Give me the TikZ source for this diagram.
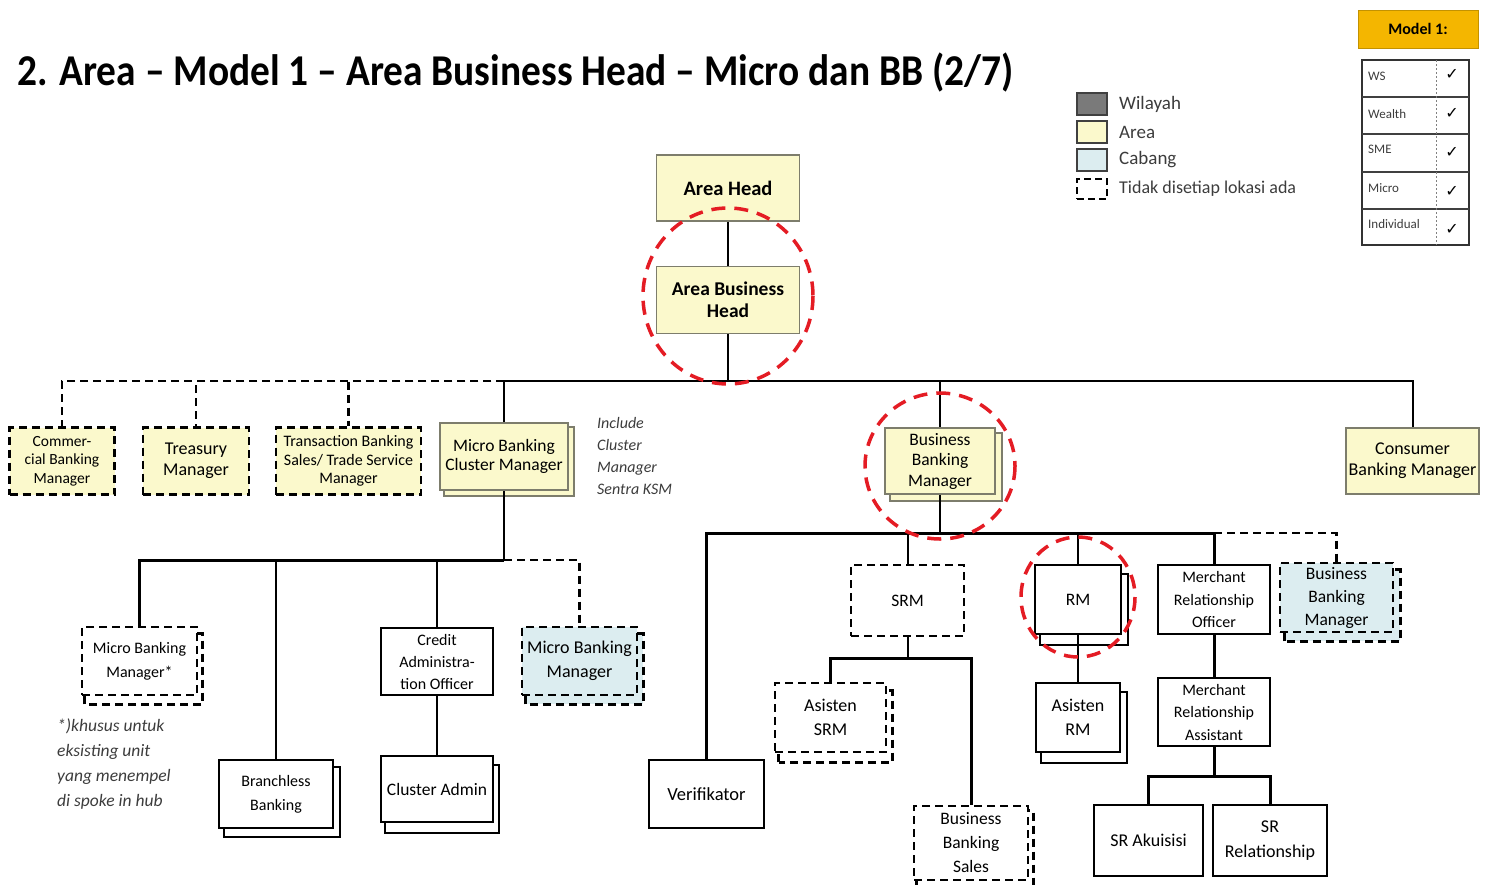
\documentclass[tikz,border=0pt]{standalone}
\usepackage{fontspec}
\setmainfont{Carlito}
\newfontfamily\djv{DejaVu Sans}
\usetikzlibrary{backgrounds}
\definecolor{ylw}{RGB}{251,249,204}
\definecolor{ybd}{RGB}{125,125,108}
\definecolor{cyn}{RGB}{220,237,240}
\definecolor{redc}{RGB}{228,28,36}
\definecolor{orng}{RGB}{244,182,0}
\definecolor{wil}{RGB}{122,122,122}
\definecolor{txtg}{RGB}{60,60,60}
\newcommand{\stackshadow}[4]{%
  \begin{scope}[on background layer]
    \path[#4] ([shift={(#2,#3)}]#1.south west) rectangle ([shift={(#2,#3)}]#1.north east);
  \end{scope}}
\newcommand{\fsz}[2]{\fontsize{#1}{#2}\selectfont}
\begin{document}
\begin{tikzpicture}[x=1pt,y=-1pt,
  every node/.style={align=center, inner sep=1pt},
  abox/.style={draw=ybd, fill=ylw, line width=1.8pt},
  wbox/.style={draw=black, fill=white, line width=2.3pt},
  dbox/.style={draw=black, fill=white, line width=2.6pt, dash pattern=on 8pt off 5pt},
  conn/.style={draw=black, line width=2pt},
  tconn/.style={draw=black, line width=3pt},
  dconn/.style={draw=black, line width=2.4pt, dash pattern=on 8pt off 5pt},
  redring/.style={draw=redc, line width=3.5pt, dash pattern=on 14pt off 9pt},
  lgd/.style={anchor=west, font=\fsz{19}{20}, text=txtg},
  tlab/.style={anchor=west, font=\fsz{13}{14}, text=txtg},
  tchk/.style={font=\djv\fsz{16}{17}},
]
\useasboundingbox (0,0) rectangle (1488,884);

% title
\node[anchor=base west, inner sep=0] (title) at (17,85) {\scalebox{0.895}[1]{\fsz{44}{48}\bfseries 2. Area – Model 1 – Area Business Head – Micro dan BB (2/7)}};

% legend
\node[draw=black!75, fill=wil, line width=1.2pt, minimum width=30, minimum height=22, inner sep=0] (lgW) at (1092,104) {};
\node[draw=black!75, fill=ylw, line width=1.2pt, minimum width=30, minimum height=22, inner sep=0] (lgA) at (1092,132) {};
\node[draw=black!75, fill=cyn, line width=1.2pt, minimum width=30, minimum height=22, inner sep=0] (lgC) at (1092,160) {};
\node[draw=black, fill=white, line width=2.2pt, dash pattern=on 7pt off 4pt, minimum width=30, minimum height=20, inner sep=0] (lgD) at (1092,189) {};
\node[lgd] (tW) at (1118,104) {Wilayah};
\node[lgd] (tA) at (1118,132) {Area};
\node[lgd] (tC) at (1118,160) {Cabang};
\node[lgd, font=\fsz{18}{20}] (tD) at (1118,189) {Tidak disetiap lokasi ada};

% model table
\node[fill=orng, draw=orng!80!black, line width=1pt, minimum width=120, minimum height=38, font=\fsz{16}{18}\bfseries] (mod) at (1418,29) {Model 1:};
\draw[line width=1.3pt, draw=black!80] (1362,60) rectangle (1469,245);
\foreach \yy in {97,134,172,209} \draw[line width=1.1pt, draw=black!75] (1362,\yy) -- (1469,\yy);
\draw[line width=0.8pt, draw=black!50, dash pattern=on 2pt off 2pt] (1436,60) -- (1436,245);
\node[tlab] (rWS) at (1367,76) {WS};
\node[tlab] (rWe) at (1367,114) {Wealth};
\node[tlab] (rSM) at (1367,149) {SME};
\node[tlab] (rMi) at (1367,188) {Micro};
\node[tlab] (rIn) at (1367,224) {Individual};
\node[tchk] (c1) at (1452,74) {✓};
\node[tchk] (c2) at (1452,113) {✓};
\node[tchk] (c3) at (1452,152) {✓};
\node[tchk] (c4) at (1452,191) {✓};
\node[tchk] (c5) at (1452,229) {✓};

% top
\node[abox, minimum width=143, minimum height=66, font=\fsz{20.5}{22}\bfseries] (ah) at (728,188) {Area Head};
\node[abox, minimum width=143, minimum height=67, font=\fsz{19.5}{22}\bfseries] (abh) at (728,300) {Area Business\\Head};

% level 2
\node[dbox, fill=ylw, minimum width=105, minimum height=67, font=\fsz{15.5}{18.5}] (comm) at (62,461) {Commer-\\cial Banking\\Manager};
\node[dbox, fill=ylw, minimum width=106, minimum height=67, font=\fsz{18}{21}] (treas) at (196,461) {Treasury\\Manager};
\node[dbox, fill=ylw, minimum width=145, minimum height=67, font=\fsz{16}{18.5}] (trans) at (348.5,461) {Transaction Banking\\Sales/ Trade Service\\Manager};
\node[abox, minimum width=128, minimum height=67, font=\fsz{17.5}{19.5}] (mbcm) at (504,456.5) {Micro Banking\\Cluster Manager};
\stackshadow{mbcm}{5}{5}{draw=ybd, fill=ylw, line width=1.8pt}
\node[anchor=north west, align=left, font=\fsz{16}{22}\itshape, text=txtg] (note1) at (596,416) {Include\\Cluster\\Manager\\Sentra KSM};
\node[abox, minimum width=110, minimum height=66, font=\fsz{17.5}{20.5}] (bbm) at (940,461) {Business\\Banking\\Manager};
\stackshadow{bbm}{6}{6}{draw=ybd, fill=ylw, line width=1.8pt}
\node[abox, minimum width=133, minimum height=66, font=\fsz{18}{21}] (cons) at (1412.5,461) {Consumer\\Banking Manager};

% micro subtree
\node[dbox, minimum width=115, minimum height=68, font=\fsz{16}{24}] (mbm1) at (139.5,661) {Micro Banking\\Manager*};
\stackshadow{mbm1}{4}{8}{draw=black, fill=white, line width=2.6pt, dash pattern=on 8pt off 5pt}
\node[anchor=north west, align=left, font=\fsz{17.5}{25}\itshape, text=txtg] (foot) at (56,718) {*)khusus untuk\\eksisting unit\\yang menempel\\di spoke in hub};
\node[wbox, minimum width=114, minimum height=68, font=\fsz{16}{24}] (bless) at (276,794) {Branchless\\Banking};
\stackshadow{bless}{6}{8}{draw=black, fill=white, line width=2.3pt}
\node[wbox, line width=2pt, minimum width=112, minimum height=67, font=\fsz{16}{22}] (cao) at (437,661.5) {Credit\\Administra-\\tion Officer};
\node[wbox, minimum width=112, minimum height=66, font=\fsz{17.5}{20}] (cadm) at (437,789) {Cluster Admin};
\stackshadow{cadm}{5}{10}{draw=black, fill=white, line width=2.3pt}
\node[dbox, fill=cyn, minimum width=115, minimum height=68, font=\fsz{18}{24}] (mbm2) at (579.5,661) {Micro Banking\\Manager};
\stackshadow{mbm2}{5}{8}{draw=black, fill=cyn, line width=2.6pt, dash pattern=on 8pt off 5pt}

% business banking subtree
\node[wbox, line width=2.8pt, minimum width=115, minimum height=68, font=\fsz{18.5}{20}] (verif) at (706.5,794) {Verifikator};
\node[dbox, minimum width=113, minimum height=71, font=\fsz{17.5}{20}] (srm) at (907.5,600.5) {SRM};
\node[dbox, minimum width=111, minimum height=69, font=\fsz{18}{24}] (asrm) at (830.5,717.5) {Asisten\\SRM};
\stackshadow{asrm}{5}{9}{draw=black, fill=white, line width=2.6pt, dash pattern=on 8pt off 5pt}
\node[dbox, minimum width=114, minimum height=74, font=\fsz{17.5}{24}] (bbs) at (971,843) {Business\\Banking\\Sales};
\stackshadow{bbs}{4}{6}{draw=black, fill=white, line width=2.6pt, dash pattern=on 8pt off 5pt}
\node[wbox, minimum width=86, minimum height=69, font=\fsz{17.5}{20}] (rm) at (1078,599.5) {RM};
\stackshadow{rm}{6}{10}{draw=black, fill=white, line width=2.3pt}
\node[wbox, minimum width=84, minimum height=69, font=\fsz{18}{24}] (arm) at (1078,717.5) {Asisten\\RM};
\stackshadow{arm}{6}{10}{draw=black, fill=white, line width=2.3pt}
\node[wbox, line width=2.8pt, minimum width=112, minimum height=69, font=\fsz{16}{22.5}] (mro) at (1214,599.5) {Merchant\\Relationship\\Officer};
\node[wbox, line width=2.8pt, minimum width=112, minimum height=68, font=\fsz{16}{22.5}] (mra) at (1214,712) {Merchant\\Relationship\\Assistant};
\node[dbox, fill=cyn, minimum width=113, minimum height=69, font=\fsz{17.5}{23}] (bbm2) at (1336.5,597.5) {Business\\Banking\\Manager};
\stackshadow{bbm2}{6}{8}{draw=black, fill=cyn, line width=2.6pt, dash pattern=on 8pt off 5pt}
\node[wbox, line width=2.8pt, minimum width=109, minimum height=71, font=\fsz{18}{20}] (sra) at (1148.5,840.5) {SR Akuisisi};
\node[wbox, line width=2.8pt, minimum width=114, minimum height=71, font=\fsz{18}{25}] (srr) at (1270,840.5) {SR\\Relationship};

% junctions
\coordinate (j0) at (504,381);
\coordinate (j1) at (728,381);
\coordinate (j2) at (504,560);
\coordinate (j3) at (940,533);
\coordinate (j4) at (1214,533);
\coordinate (j5) at (907.5,658);
\coordinate (j6) at (1214,776);

% connectors top
\draw[conn] (ah) -- (abh);
\draw[conn] (abh) -- (j1);
\draw[conn] (j1) -| (mbcm);
\draw[conn] (j1) -| (bbm);
\draw[conn] (j1) -| (cons);
\draw[dconn] (j0) -| (trans);
\draw[dconn] (j0) -| (treas);
\draw[dconn] (j0) -| (comm);

% micro connectors
\draw[conn] (mbcm) -- (j2);
\draw[tconn] (j2) -| (mbm1);
\draw[conn] (j2) -| (bless);
\draw[conn] (j2) -| (cao);
\draw[dconn] (j2) -| (mbm2);
\draw[conn] (cao) -- (cadm);

% business banking connectors
\draw[conn] (bbm) -- (j3);
\draw[tconn] (j3) -| (verif);
\draw[conn] (j3) -| (srm);
\draw[conn] (j3) -| (rm);
\draw[tconn] (j3) -| (mro);
\draw[dconn] (j4) -| (bbm2);
\draw[conn] (srm) -- (j5);
\draw[tconn] (j5) -| (asrm);
\draw[tconn] (j5) -| (bbs);
\draw[conn] (rm) -- (arm);
\draw[tconn] (mro) -- (mra);
\draw[tconn] (mra) -- (j6);
\draw[tconn] (j6) -| (sra);
\draw[tconn] (j6) -| (srr);

% red highlight rings
\draw[redring] (728,296) ellipse [x radius=85, y radius=88];
\draw[redring] (940,466) ellipse [x radius=75, y radius=73];
\draw[redring] (1078,597) ellipse [x radius=57, y radius=60];
\end{tikzpicture}
\end{document}
